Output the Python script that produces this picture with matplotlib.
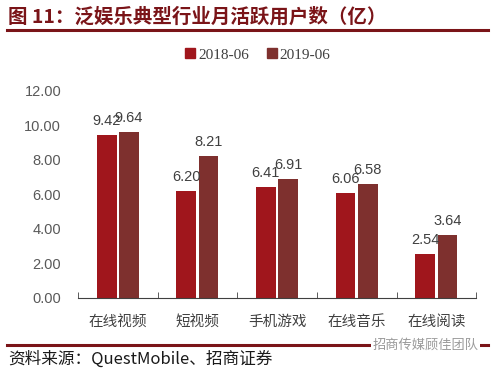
import numpy as np
import matplotlib
matplotlib.use("Agg")
import matplotlib.pyplot as plt
from matplotlib.lines import Line2D

plt.rcParams["font.family"] = ["Liberation Sans", "Noto Sans CJK SC", "DejaVu Sans"]

categories = ["在线视频", "短视频", "手机游戏", "在线音乐", "在线阅读"]
series_names = ["2018-06", "2019-06"]
v2018 = [9.42, 6.20, 6.41, 6.06, 2.54]
v2019 = [9.64, 8.21, 6.91, 6.58, 3.64]
yticks = [0, 2, 4, 6, 8, 10, 12]

C18 = "#A0161C"
C19 = "#7E302E"
DARK = "#7A1418"
CJK = ["Noto Sans CJK SC", "DejaVu Sans"]

fig = plt.figure(figsize=(4.96, 3.71), dpi=100, facecolor="white")
ax = fig.add_axes([0.157, 0.197, 0.803, 0.558])

x = np.arange(len(categories))
w = 0.25
b1 = ax.bar(x - 0.14, v2018, w, color=C18, label=series_names[0])
b2 = ax.bar(x + 0.14, v2019, w, color=C19, label=series_names[1])

for bars, vals in ((b1, v2018), (b2, v2019)):
    for r, v in zip(bars, vals):
        ax.annotate(f"{v:.2f}", (r.get_x() + r.get_width() / 2, v),
                    xytext=(0, 5), textcoords="offset points",
                    ha="center", va="bottom", fontsize=10.5, color="#404040")

ax.set_xlim(-0.5, len(categories) - 0.5)
ax.set_ylim(0, 12)
ax.set_yticks(yticks)
ax.set_yticklabels([f"{t:.2f}" for t in yticks], fontsize=10.5, color="#595959")
ax.set_xticks(x)
ax.set_xticklabels(categories, family=CJK, fontsize=10.5, color="#404040")
ax.tick_params(axis="x", length=0, pad=12)
ax.tick_params(axis="y", length=0, pad=12)
ax.set_xticks(np.arange(-0.5, len(categories)), minor=True)
ax.tick_params(axis="x", which="minor", direction="in", length=4, color="#404040")
for s in ("top", "right", "left"):
    ax.spines[s].set_visible(False)
ax.spines["bottom"].set_color("#404040")
ax.spines["bottom"].set_linewidth(0.8)

handles = [Line2D([], [], marker="s", ls="", color=C18, markersize=7),
           Line2D([], [], marker="s", ls="", color=C19, markersize=7)]
fig.legend(handles, series_names, loc="center", bbox_to_anchor=(0.52, 0.852),
           ncol=2, frameon=False, handlelength=0.6, handletextpad=0.2,
           columnspacing=1.2, prop={"family": "Liberation Serif", "size": 11},
           labelcolor="#404040")

# title and frame lines
fig.text(0.016, 0.955, "图 11：泛娱乐典型行业月活跃用户数（亿）", family=CJK,
         fontsize=14, fontweight="bold", color=DARK, va="center", ha="left")
fig.add_artist(Line2D([0.014, 0.984], [0.918, 0.918], color=DARK, lw=2.2))
fig.add_artist(Line2D([0.014, 0.984], [0.07, 0.07], color=DARK, lw=2.2))
fig.text(0.016, 0.033, "资料来源：QuestMobile、招商证券", family=CJK,
         fontsize=12, color="#1a1a1a", va="center", ha="left")
fig.text(0.965, 0.07, "招商传媒顾佳团队", family=CJK, fontsize=9.5,
         color="#9a9a9a", va="center", ha="right",
         bbox=dict(facecolor="white", edgecolor="none", pad=1))

fig.savefig("out.png", dpi=100, facecolor="white")
